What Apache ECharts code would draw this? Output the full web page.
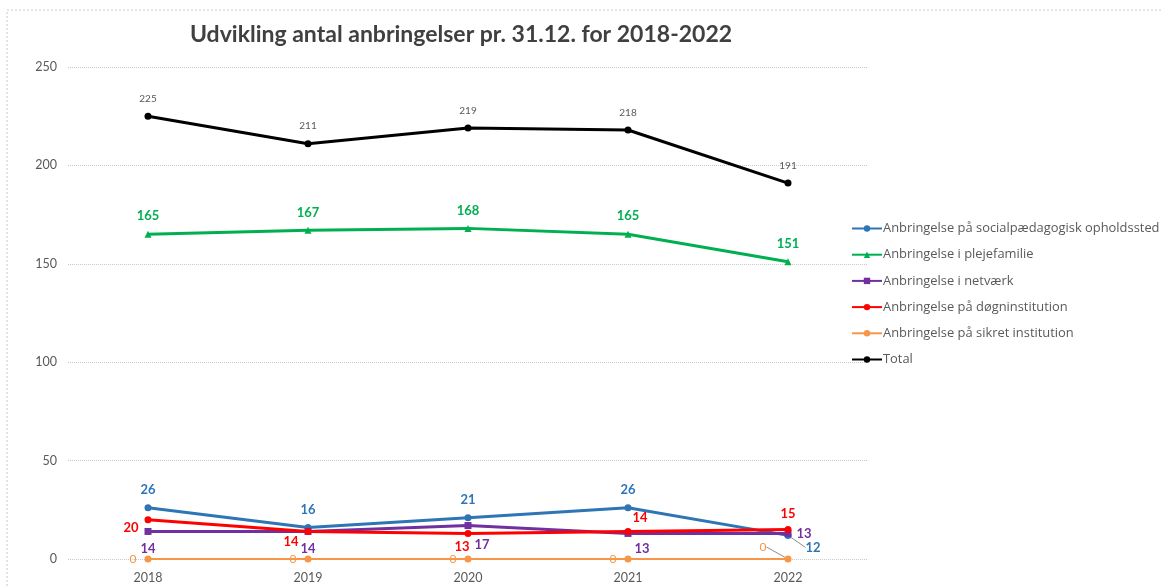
<!DOCTYPE html>
<html>
<head>
<meta charset="utf-8">
<script src="https://cdn.jsdelivr.net/npm/echarts@6/dist/echarts.min.js"></script>
<style>
	html, body {margin: 0; padding: 0; background: #fff;}
	#chart {width: 1163px; height: 586px;}
</style>
</head>
<body>
<div id="chart"></div>
<script>
var years = ['2018', '2019', '2020', '2021', '2022'];
var yTicks = [0, 50, 100, 150, 200, 250];

var socialpaed = [26, 16, 21, 26, 12];
var pleje = [165, 167, 168, 165, 151];
var netvaerk = [14, 14, 17, 13, 13];
var doegn = [20, 14, 13, 14, 15];
var sikret = [0, 0, 0, 0, 0];
var total = [225, 211, 219, 218, 191];

var seriesNames = [
	'Anbringelse på socialpædagogisk opholdssted',
	'Anbringelse i plejefamilie',
	'Anbringelse i netværk',
	'Anbringelse på døgninstitution',
	'Anbringelse på sikret institution',
	'Total'
];

// where each point label sits (style only), leader = index that gets a label line
function withPos(values, positions, leader) {
	var out = [];
	for (var i = 0; i < values.length; i++) {
		var item = {value: values[i], label: {position: positions[i]}};
		if (i === leader) {
			item.labelLine = {show: true, lineStyle: {color: '#8c8c8c', width: 1}};
		}
		out.push(item);
	}
	return out;
}

function makeLine(name, color, values, symbol, label, positions, extra, leader) {
	var s = {
		name: name,
		type: 'line',
		data: withPos(values, positions, leader),
		symbol: symbol,
		symbolSize: 7,
		lineStyle: {color: color, width: 3},
		itemStyle: {color: color},
		label: label
	};
	for (var k in extra) s[k] = extra[k];
	return s;
}

var chart = echarts.init(document.getElementById('chart'));
var labelFont = 'Lato';

var option = {
	textStyle: {fontFamily: labelFont},
	title: {
		text: 'Udvikling antal anbringelser pr. 31.12. for 2018-2022',
		left: 456,
		textAlign: 'center',
		top: 18,
		textStyle: {fontSize: 23, fontWeight: 'bold', color: '#404040', fontFamily: labelFont}
	},
	graphic: [{
		type: 'rect',
		shape: {x: 7, y: 10, width: 1160, height: 600},
		style: {fill: 'none', stroke: '#c8c8c8', lineWidth: 1, lineDash: [2, 2]},
		silent: true
	}],
	legend: {
		orient: 'vertical',
		left: 846,
		top: 217,
		itemWidth: 30,
		itemHeight: 8,
		itemGap: 13.2,
		data: seriesNames,
		textStyle: {color: '#595959', fontSize: 12.9, fontFamily: 'Open Sans', padding: [0, 0, 0, -4]}
	},
	grid: {left: 68, right: 295, top: 67, bottom: 27},
	xAxis: {
		type: 'category',
		data: years,
		boundaryGap: true,
		axisLine: {show: false},
		axisTick: {show: false},
		axisLabel: {color: '#595959', fontSize: 12.5, margin: 12}
	},
	yAxis: {
		type: 'value',
		min: yTicks[0],
		max: yTicks[yTicks.length - 1],
		interval: 50,
		axisLine: {show: false},
		axisTick: {show: false},
		axisLabel: {color: '#595959', fontSize: 12.5, margin: 11},
		splitLine: {lineStyle: {color: '#c9c9c9', type: 'dotted', width: 1}}
	},
	series: [
		makeLine(seriesNames[0], '#2e75b6', socialpaed, 'circle',
			{show: true, color: '#2e75b6', fontWeight: 'bold', fontSize: 13, distance: 8},
			['top', 'top', 'top', 'top', 'right'],
			{labelLayout: function (p) { return p.dataIndex == 4 ? {dx: 6, dy: 12} : {}; }},
			4),
		makeLine(seriesNames[1], '#00b050', pleje, 'triangle',
			{show: true, color: '#00b050', fontWeight: 'bold', fontSize: 13, distance: 8},
			['top', 'top', 'top', 'top', 'top'], {}),
		makeLine(seriesNames[2], '#7030a0', netvaerk, 'rect',
			{show: true, color: '#7030a0', fontWeight: 'bold', fontSize: 13, distance: 5},
			['bottom', 'bottom', 'bottom', 'bottom', 'right'],
			{labelLayout: function (p) {
				if (p.dataIndex == 0 || p.dataIndex == 1) return {dy: 2};
				if (p.dataIndex == 2) return {dx: 14, dy: 4};
				if (p.dataIndex == 3) return {dx: 14, dy: 0};
				return {};
			}}),
		makeLine(seriesNames[3], '#ff0000', doegn, 'circle',
			{show: true, color: '#ff0000', fontWeight: 'bold', fontSize: 13, distance: 6},
			['left', 'bottom', 'bottom', 'top', 'top'],
			{labelLayout: function (p) {
				if (p.dataIndex == 0) return {dy: 8};
				if (p.dataIndex == 1) return {dx: -17, dy: -6};
				if (p.dataIndex == 2) return {dx: -6, dy: -3};
				if (p.dataIndex == 3) return {dx: 12, dy: 2};
				return {};
			}}),
		makeLine(seriesNames[4], '#f79646', sikret, 'circle',
			{show: true, color: '#f79646', fontSize: 12, distance: 8},
			['left', 'left', 'left', 'left', 'left'],
			{
				lineStyle: {color: '#f79646', width: 2},
				labelLayout: function (p) { return p.dataIndex == 4 ? {dx: -10, dy: -12} : {}; }
			},
			4),
		makeLine(seriesNames[5], '#000000', total, 'circle',
			{show: true, color: '#595959', fontSize: 10, distance: 9},
			['top', 'top', 'top', 'top', 'top'], {})
	]
};
chart.setOption(option);
</script>
</body>
</html>
